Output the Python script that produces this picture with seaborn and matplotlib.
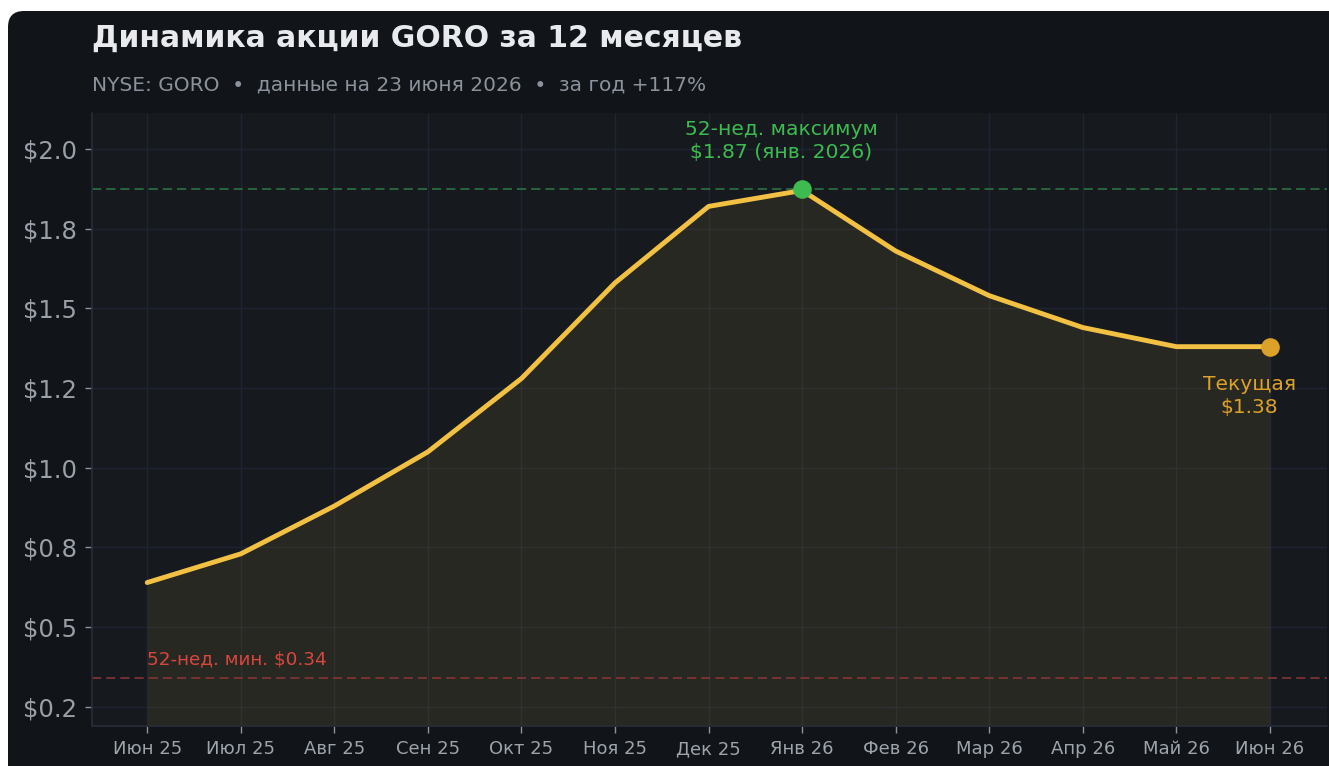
import matplotlib
matplotlib.use("Agg")
import matplotlib.pyplot as plt
import matplotlib.patches as patches
import matplotlib.ticker as mticker
import pandas as pd
import seaborn as sns

# Data
months = ["Июн 25", "Июл 25", "Авг 25", "Сен 25", "Окт 25", "Ноя 25", "Дек 25",
          "Янв 26", "Фев 26", "Мар 26", "Апр 26", "Май 26", "Июн 26"]
prices = [0.64, 0.73, 0.88, 1.05, 1.28, 1.58, 1.82, 1.87, 1.68, 1.54, 1.44, 1.38, 1.38]
high_52w = 1.875
low_52w = 0.34
y_ticks = [0.25, 0.5, 0.75, 1.0, 1.25, 1.5, 1.75, 2.0]

df = pd.DataFrame({"pos": range(len(months)), "price": prices})

# Colors
card_bg = "#111519"
ax_bg = "#161a1f"
gold = "#f2c144"
gold_dark = "#dca127"
green = "#3dbb50"
red = "#d9463f"
grid_col = "#1f2332"
text_gray = "#8b929b"

sns.set_theme(style="dark")
plt.rcParams["font.family"] = ["DejaVu Sans"]

W, H = 1329, 766
fig = plt.figure(figsize=(W / 100, H / 100), dpi=100, facecolor="white")

# rounded dark card
card = patches.FancyBboxPatch((8, -20), 1360, H - 11 + 20,
                              boxstyle="round,pad=0,rounding_size=16",
                              transform=None, facecolor=card_bg,
                              edgecolor="none", zorder=-10)
fig.patches.append(card)

ax = fig.add_axes([92 / W, 1 - 726 / H, (1327 - 92) / W, (726 - 113) / H])
ax.set_facecolor(ax_bg)

ymin, ymax = 0.19, 2.113

ax.fill_between(df["pos"], df["price"], ymin, color=gold, alpha=0.085, lw=0, zorder=1)
sns.lineplot(data=df, x="pos", y="price", ax=ax, color=gold, linewidth=3.5, zorder=3)

# 52-week high / low lines
ax.axhline(high_52w, color="#2f7a45", lw=1.2, ls=(0, (5.5, 3)), alpha=0.9, zorder=2)
ax.axhline(low_52w, color="#8e3636", lw=1.2, ls=(0, (5.5, 3)), alpha=0.9, zorder=2)

# markers
imax = prices.index(max(prices))
ax.scatter([imax], [high_52w], s=180, color=green, zorder=5, linewidths=0)
ax.scatter([len(prices) - 1], [prices[-1]], s=180, color=gold_dark, zorder=5, linewidths=0)

ax.text(imax - 0.22, 2.025, "52-нед. максимум\n$1.87 (янв. 2026)", color=green,
        fontsize=14.6, ha="center", va="center", linespacing=1.32)
ax.text(len(prices) - 1 - 0.22, 1.225, "Текущая\n$1.38", color=gold_dark,
        fontsize=14.6, ha="center", va="center", linespacing=1.32)
ax.text(0, low_52w + 0.03, "52-нед. мин. $0.34", color=red, fontsize=13.2,
        ha="left", va="bottom")

ax.set_xlim(-0.59, len(months) - 1 + 0.61)
ax.set_ylim(ymin, ymax)
ax.set_xticks(df["pos"])
ax.set_xticklabels(months)
ax.set_yticks(y_ticks)
ax.yaxis.set_major_formatter(mticker.FuncFormatter(lambda v, p: f"${v:.1f}"))

ax.grid(True, color=grid_col, lw=1)
ax.set_axisbelow(True)
ax.tick_params(axis="x", colors=text_gray, labelsize=13, length=5, width=1, pad=5,
               labelcolor="#9ea4ac")
ax.tick_params(axis="y", colors=text_gray, labelsize=17.5, length=5, width=1, pad=6,
               labelcolor="#9aa0a8")
ax.tick_params(bottom=True, left=True)
for side in ["top", "right"]:
    ax.spines[side].set_visible(False)
for side in ["left", "bottom"]:
    ax.spines[side].set_color("#272c38")
ax.set_xlabel("")
ax.set_ylabel("")

fig.text(92 / W, 1 - 38 / H, "Динамика акции GORO за 12 месяцев", color="#e8eaed",
         fontsize=21.5, fontweight="bold", ha="left", va="center")
fig.text(92 / W, 1 - 85 / H, "NYSE: GORO  •  данные на 23 июня 2026  •  за год +117%",
         color=text_gray, fontsize=14.5, ha="left", va="center")

fig.savefig("out.png", dpi=100, facecolor="white")
